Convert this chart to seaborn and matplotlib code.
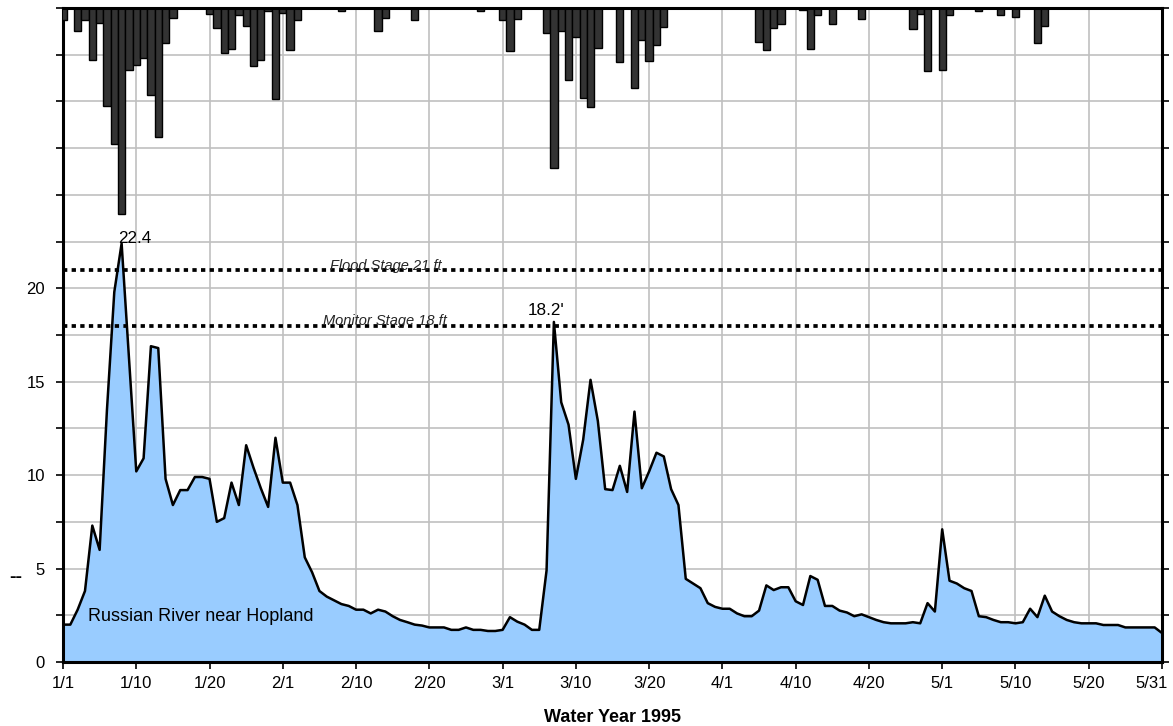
import numpy as np
import pandas as pd
import matplotlib
matplotlib.use("Agg")
import matplotlib.pyplot as plt
import matplotlib.transforms as mtransforms
import seaborn as sns

plt.rcParams['font.family'] = ['Liberation Sans', 'DejaVu Sans']

# ---------------- data ----------------
days = list(range(151))  # daily index, 1/1 .. 5/31

stage = [
    2.0, 2.0, 2.8, 3.8, 7.3, 6.0, 13.5, 19.8, 22.4, 16.3,
    10.2, 10.9, 16.9, 16.8, 9.8, 8.4, 9.2, 9.2, 9.9, 9.9,
    9.8, 7.5, 7.7, 9.6, 8.4, 11.6, 10.4, 9.3, 8.3, 12.0,
    9.6, 9.6, 8.4, 5.6, 4.8, 3.8, 3.5, 3.3, 3.1, 3.0,
    2.8, 2.8, 2.6, 2.8, 2.7, 2.45, 2.25, 2.13, 2.0, 1.95,
    1.85, 1.85, 1.85, 1.72, 1.72, 1.85, 1.72, 1.72, 1.66, 1.66,
    1.72, 2.4, 2.16, 2.0, 1.72, 1.72, 4.9, 18.2, 13.9, 12.7,
    9.8, 11.9, 15.1, 12.9, 9.25, 9.2, 10.5, 9.1, 13.4, 9.3,
    10.2, 11.2, 11.0, 9.25, 8.4, 4.45, 4.2, 3.95, 3.15, 2.95,
    2.85, 2.85, 2.6, 2.45, 2.45, 2.75, 4.1, 3.85, 4.0, 4.0,
    3.25, 3.05, 4.6, 4.4, 3.0, 3.0, 2.75, 2.65, 2.45, 2.55,
    2.4, 2.25, 2.13, 2.07, 2.07, 2.07, 2.13, 2.07, 3.15, 2.7,
    7.1, 4.35, 4.2, 3.95, 3.8, 2.45, 2.4, 2.25, 2.13, 2.13,
    2.07, 2.13, 2.85, 2.4, 3.55, 2.7, 2.45, 2.25, 2.13, 2.07,
    2.07, 2.07, 1.98, 1.98, 1.98, 1.85, 1.85, 1.85, 1.85, 1.85,
    1.55,
]

precip = [
    0.13, 0.0, 0.25, 0.13, 0.56, 0.16, 1.05, 1.46, 2.20, 0.66,
    0.61, 0.54, 0.93, 1.38, 0.37, 0.11, 0.0, 0.0, 0.0, 0.0,
    0.06, 0.21, 0.48, 0.44, 0.07, 0.19, 0.62, 0.56, 0.03, 0.97,
    0.05, 0.45, 0.13, 0.0, 0.0, 0.0, 0.0, 0.0, 0.03, 0.0,
    0.0, 0.0, 0.0, 0.25, 0.11, 0.0, 0.0, 0.0, 0.13, 0.0,
    0.0, 0.0, 0.0, 0.0, 0.0, 0.0, 0.0, 0.03, 0.0, 0.0,
    0.13, 0.46, 0.12, 0.0, 0.0, 0.0, 0.27, 1.71, 0.25, 0.77,
    0.31, 0.96, 1.06, 0.43, 0.0, 0.0, 0.58, 0.0, 0.86, 0.34,
    0.57, 0.40, 0.20, 0.0, 0.0, 0.0, 0.0, 0.0, 0.0, 0.0,
    0.0, 0.0, 0.0, 0.0, 0.0, 0.36, 0.45, 0.21, 0.17, 0.0,
    0.0, 0.02, 0.44, 0.07, 0.0, 0.17, 0.0, 0.0, 0.0, 0.12,
    0.0, 0.0, 0.0, 0.0, 0.0, 0.0, 0.23, 0.06, 0.67, 0.0,
    0.66, 0.07, 0.0, 0.0, 0.0, 0.03, 0.0, 0.0, 0.07, 0.0,
    0.10, 0.0, 0.0, 0.37, 0.19, 0.0, 0.0, 0.0, 0.0, 0.0,
    0.0, 0.0, 0.0, 0.0, 0.0, 0.0, 0.0, 0.0, 0.0, 0.0,
    0.0,
]

xtick_labels = ['1/1', '1/10', '1/20', '2/1', '2/10', '2/20', '3/1', '3/10',
                '3/20', '4/1', '4/10', '4/20', '5/1', '5/10', '5/20', '5/31']
ytick_labels = {0: '0', 5: '5', 10: '10', 15: '15', 20: '20'}

flood_stage = 21.0
monitor_stage = 18.0

# ---------------- figure ----------------
W, H = 1173, 726
fig = plt.figure(figsize=(W / 100, H / 100), dpi=100)
ax = fig.add_axes([63 / W, 64 / H, 1099 / W, 654 / H])

ax.set_xlim(0, 150)
ax.set_ylim(0, 35)
ax.grid(True, color='#c0c0c0', lw=1.2)
ax.set_axisbelow(True)

ax.fill_between(days, stage, 0, color='#99ccff', lw=0, zorder=2)
sns.lineplot(x=days, y=stage, ax=ax, color='black', lw=1.8, zorder=3)

for lvl in (flood_stage, monitor_stage):
    ax.axhline(lvl, color='black', lw=2.7, ls=(0, (1.15, 1.15)), zorder=4)

ax.text(36.4, flood_stage + 0.2, 'Flood Stage 21 ft', fontsize=10.5, style='italic',
        color='#262626', ha='left', va='center', zorder=5)
ax.text(35.5, monitor_stage + 0.25, 'Monitor Stage 18 ft', fontsize=10.5, style='italic',
        color='#262626', ha='left', va='center', zorder=5)
ax.text(7.5, 22.45, '22.4', fontsize=12.3, ha='left', va='baseline', zorder=5)
ax.text(63.4, 18.55, "18.2'", fontsize=12.3, ha='left', va='baseline', zorder=5)
ax.text(3.4, 2.22, 'Russian River near Hopland', fontsize=13, ha='left',
        va='baseline', zorder=5)

# precipitation bars hanging from the top
ax2 = ax.twinx()
df = pd.DataFrame({'day': days, 'precip': precip})
sns.barplot(data=df, x='day', y='precip', ax=ax2, native_scale=True,
            color='#333333', saturation=1, edgecolor='black', linewidth=1.0,
            width=1.0, errorbar=None)
ax2.set_ylim(7, 0)
ax2.set_yticks(np.arange(0, 7.01, 0.5))
ax2.set_yticklabels([])
ax2.set_ylabel('')
ax2.set_xlabel('')

# axes / ticks
ax.set_xlim(0, 150)
ax.set_xticks(np.arange(0, 151, 10))
ax.set_xticklabels(xtick_labels)
yt = np.arange(0, 35.01, 2.5)
ax.set_yticks(yt)
ax.set_yticklabels([ytick_labels.get(int(v), '') if v == int(v) else '' for v in yt])
ax.tick_params(axis='y', direction='out', length=5, width=1.2, pad=8,
               labelsize=12, left=True, right=False)
ax.tick_params(axis='x', direction='inout', length=10, width=1.2, pad=5,
               labelsize=12, top=False)
ax2.tick_params(axis='y', direction='out', length=5, width=1.2, right=True)

# shift last x label slightly left so it stays inside the figure
last = ax.get_xticklabels()[-1]
last.set_transform(last.get_transform() +
                   mtransforms.ScaledTranslation(-10 / 100, 0, fig.dpi_scale_trans))

ax.set_xlabel('Water Year 1995', fontsize=13, fontweight='bold', labelpad=13)
ax.set_ylabel('')

for s in ['left', 'bottom']:
    ax.spines[s].set_linewidth(2.2)
    ax.spines[s].set_color('black')
for s in ['top', 'right']:
    ax.spines[s].set_visible(False)
for s in ['left', 'bottom']:
    ax2.spines[s].set_visible(False)
for s in ['top', 'right']:
    ax2.spines[s].set_linewidth(2.2)
    ax2.spines[s].set_color('black')

fig.text(9 / W, 1 - 577 / H, '--', fontsize=14, fontweight='bold',
         ha='left', va='center')

fig.savefig('out.png', dpi=100)
